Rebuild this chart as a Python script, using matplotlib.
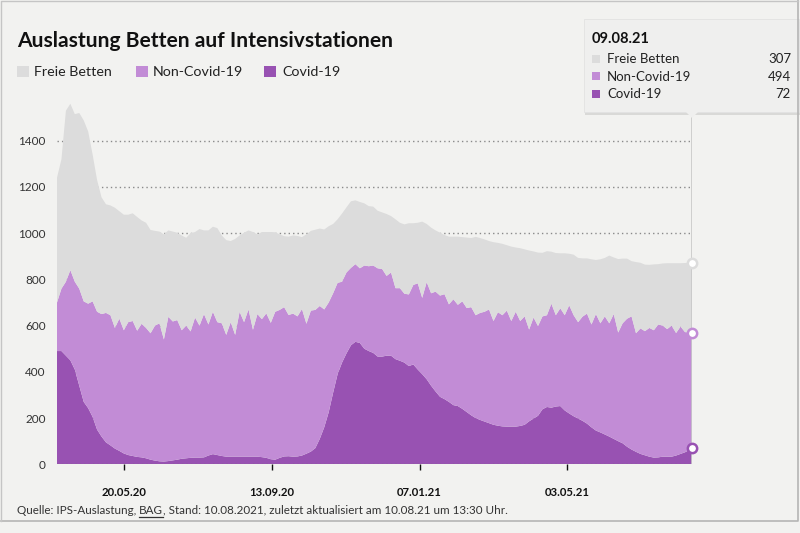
import matplotlib
matplotlib.use('Agg')
import matplotlib.pyplot as plt
import matplotlib.dates as mdates
from matplotlib.patches import Rectangle, Polygon
from matplotlib.lines import Line2D
import pandas as pd

# ---- data (twice-weekly samples) ----
dates = pd.date_range('2020-03-28', periods=143, freq='84h').append(pd.DatetimeIndex(['2021-08-09']))

covid = [490, 490, 470, 450, 410, 340, 270, 243, 205, 150, 120, 95, 82, 68, 58, 47, 40, 36, 32, 30,
         26, 20, 16, 13, 12, 14, 17, 20, 24, 26, 28, 29, 29, 30, 38, 44, 40, 36, 33, 33,
         33, 33, 33, 33, 33, 33, 31, 28, 22, 20, 28, 34, 35, 33, 34, 38, 46, 55, 70, 110,
         160, 225, 310, 390, 440, 480, 515, 530, 525, 500, 490, 482, 466, 466, 470, 470, 455, 448, 440, 425,
         432, 410, 390, 368, 340, 315, 292, 282, 270, 256, 252, 240, 226, 212, 200, 192, 185, 178, 171, 167,
         164, 163, 163, 163, 166, 171, 186, 198, 210, 238, 248, 245, 250, 252, 233, 220, 208, 198, 188, 176,
         160, 146, 138, 129, 120, 110, 100, 91, 76, 64, 54, 45, 39, 33, 29, 30, 33, 33, 33, 38,
         45, 52, 62, 72]

non_covid = [210, 270, 320, 390, 380, 420, 435, 452, 500, 510, 530, 560, 563, 522, 572, 533, 575, 584, 546, 578,
             564, 547, 584, 597, 528, 624, 601, 604, 556, 574, 547, 606, 571, 620, 567, 616, 575, 574, 527, 582,
             527, 627, 582, 637, 549, 617, 597, 625, 590, 640, 640, 646, 611, 619, 606, 634, 562, 610, 598, 575,
             510, 475, 430, 395, 350, 350, 335, 336, 323, 360, 367, 378, 382, 379, 345, 360, 307, 314, 298, 310,
             344, 373, 330, 420, 400, 432, 438, 454, 422, 458, 438, 465, 450, 468, 445, 463, 475, 492, 449, 491,
             481, 502, 457, 497, 454, 469, 397, 437, 388, 402, 397, 450, 395, 423, 412, 468, 437, 417, 451, 476,
             445, 504, 472, 511, 490, 540, 470, 519, 554, 576, 513, 543, 537, 557, 551, 575, 567, 552, 567, 530,
             551, 520, 508, 494]

freie = [540, 560, 740, 720, 725, 760, 783, 745, 635, 570, 505, 470, 475, 520, 465, 500, 465, 466, 492, 447,
         455, 447, 410, 397, 455, 374, 389, 378, 410, 380, 425, 370, 418, 362, 407, 368, 407, 380, 410, 351,
         415, 330, 387, 342, 423, 345, 377, 352, 393, 344, 327, 307, 339, 338, 348, 311, 387, 345, 347, 335,
         346, 330, 300, 275, 295, 282, 288, 276, 287, 269, 260, 255, 249, 245, 268, 244, 298, 283, 300, 308,
         267, 262, 330, 252, 284, 265, 272, 256, 293, 271, 295, 278, 305, 299, 339, 324, 313, 296, 341, 300,
         309, 283, 322, 278, 315, 290, 342, 286, 318, 275, 277, 225, 269, 238, 268, 223, 262, 278, 252, 239,
         282, 234, 277, 253, 293, 245, 318, 280, 260, 239, 308, 284, 288, 273, 285, 261, 269, 285, 270, 302,
         274, 299, 302, 307]

series_labels = ['Freie Betten', 'Non-Covid-19', 'Covid-19']
series_colors = ['#dcdcdc', '#c28cd6', '#9852b2']
tick_dates = ['2020-05-20', '2020-09-13', '2021-01-07', '2021-05-03']
y_ticks = [0, 200, 400, 600, 800, 1000, 1200, 1400]
title = 'Auslastung Betten auf Intensivstationen'
source_parts = ['Quelle: IPS-Auslastung, ', 'BAG',
                ', Stand: 10.08.2021, zuletzt aktualisiert am 10.08.21 um 13:30 Uhr.']

# ---- figure ----
plt.rcParams['font.family'] = ['Lato', 'DejaVu Sans']
W, H = 800, 533
BG = '#f2f2f0'
fig = plt.figure(figsize=(W / 100, H / 100), dpi=100, facecolor=BG)


def fx(x):
    return x / W


def fy(y):
    return 1 - y / H


ax = fig.add_axes([fx(57), fy(464.3), 635 / W, (464.3 - 94.5) / H])
ax.set_facecolor(BG)

for yv in y_ticks[1:]:
    ax.axhline(yv, color='#8a8a8a', lw=1.0, ls=(0, (1, 2.2)), zorder=0)

ax.stackplot(dates, covid, non_covid, freie,
             colors=[series_colors[2], series_colors[1], series_colors[0]],
             linewidth=0, zorder=2, antialiased=True)
ax.axhline(0, color='#777777', lw=1.0, ls=(0, (1, 2.2)), zorder=4)

ax.set_xlim(dates[0], dates[-1])
ax.set_ylim(0, 1600)
ax.set_yticks(y_ticks)
ax.set_xticks(pd.to_datetime(tick_dates))
ax.xaxis.set_major_formatter(mdates.DateFormatter('%d.%m.%y'))
for s in ax.spines.values():
    s.set_visible(False)
ax.tick_params(axis='y', length=0, pad=8, labelsize=8.5, labelcolor='#333333')
ax.tick_params(axis='x', length=4, width=1, color='#111111', pad=12, labelsize=8.2,
               labelcolor='#111111')
for lab in ax.get_xticklabels():
    lab.set_fontweight('bold')

# hover line + markers
last = dates[-1]
ax.axvline(last, ymin=0, ymax=(464.3 - 117) / (464.3 - 94.5), color='#c8c8c8', lw=1.2, zorder=3)
c_top = covid[-1]
n_top = covid[-1] + non_covid[-1]
f_top = n_top + freie[-1]
for val, col in [(f_top, series_colors[0]), (n_top, series_colors[1]), (c_top, series_colors[2])]:
    ax.scatter([last], [val], s=45, facecolor='white', edgecolor=col, linewidth=1.8,
               zorder=6, clip_on=False)

# ---- title & legend ----
fig.text(fx(17), fy(47), title, fontsize=15.1, fontweight='bold', color='#111111', va='baseline')
leg_sq = [17, 136, 264]
leg_tx = [34, 153, 282]
for i, lab in enumerate(series_labels):
    fig.add_artist(Rectangle((fx(leg_sq[i]), fy(77)), 12 / W, 11 / H, transform=fig.transFigure,
                             facecolor=series_colors[i], edgecolor='none'))
    fig.text(fx(leg_tx[i]), fy(76.5), lab, fontsize=10.3, color='#222222', va='baseline')

# ---- source (with underlined BAG) ----
renderer = fig.canvas.get_renderer()
xcur = 17.0
for j, part in enumerate(source_parts):
    t = fig.text(fx(xcur), fy(513.5), part, fontsize=8.4, color='#333333', va='baseline')
    bb = t.get_window_extent(renderer=renderer)
    if j == 1:
        fig.add_artist(Line2D([fx(xcur), fx(xcur + bb.width)], [fy(517), fy(517)],
                              color='#333333', lw=0.9))
    xcur += bb.width

# ---- frame ----
fig.add_artist(Line2D([fx(0.5), fx(797.5), fx(797.5)], [fy(521), fy(521), fy(0)], color='#b5b5b5', lw=1.2))
fig.add_artist(Line2D([fx(0.5), fx(0.5), fx(797.5)], [fy(521), fy(0.5), fy(0.5)], color='#c5c5c5', lw=1.0))

# ---- tooltip ----
bx0, by0, bx1, by1 = 584, 19, 799, 112
fig.add_artist(Rectangle((fx(bx0 + 1), fy(by1 + 3)), (bx1 - bx0) / W, (by1 - by0) / H,
                         transform=fig.transFigure, facecolor='#000000', alpha=0.10, edgecolor='none'))
fig.add_artist(Rectangle((fx(bx0), fy(by1)), (bx1 - bx0) / W, (by1 - by0) / H,
                         transform=fig.transFigure, facecolor='#efefee', edgecolor='#e2e2e2', lw=0.6))
fig.add_artist(Polygon([[fx(686), fy(112)], [fx(698), fy(112)], [fx(692), fy(118)]],
                       closed=True, transform=fig.transFigure, facecolor='#efefee', edgecolor='none'))
fig.text(fx(592), fy(43), dates[-1].strftime('%d.%m.%y'), fontsize=10.5, fontweight='bold',
         color='#111111', va='baseline')
row_vals = [freie[-1], non_covid[-1], covid[-1]]
row_base = [63.3, 80.8, 98.4]
for i, lab in enumerate(series_labels):
    yb = row_base[i]
    fig.add_artist(Rectangle((fx(592), fy(yb - 0.5)), 8 / W, 8 / H, transform=fig.transFigure,
                             facecolor=series_colors[i], edgecolor='none'))
    fig.text(fx(607), fy(yb), lab, fontsize=9.5, color='#222222', va='baseline')
    fig.text(fx(791), fy(yb), str(row_vals[i]), fontsize=9.5, color='#222222', va='baseline', ha='right')

fig.savefig('out.png', dpi=100, facecolor=BG)
